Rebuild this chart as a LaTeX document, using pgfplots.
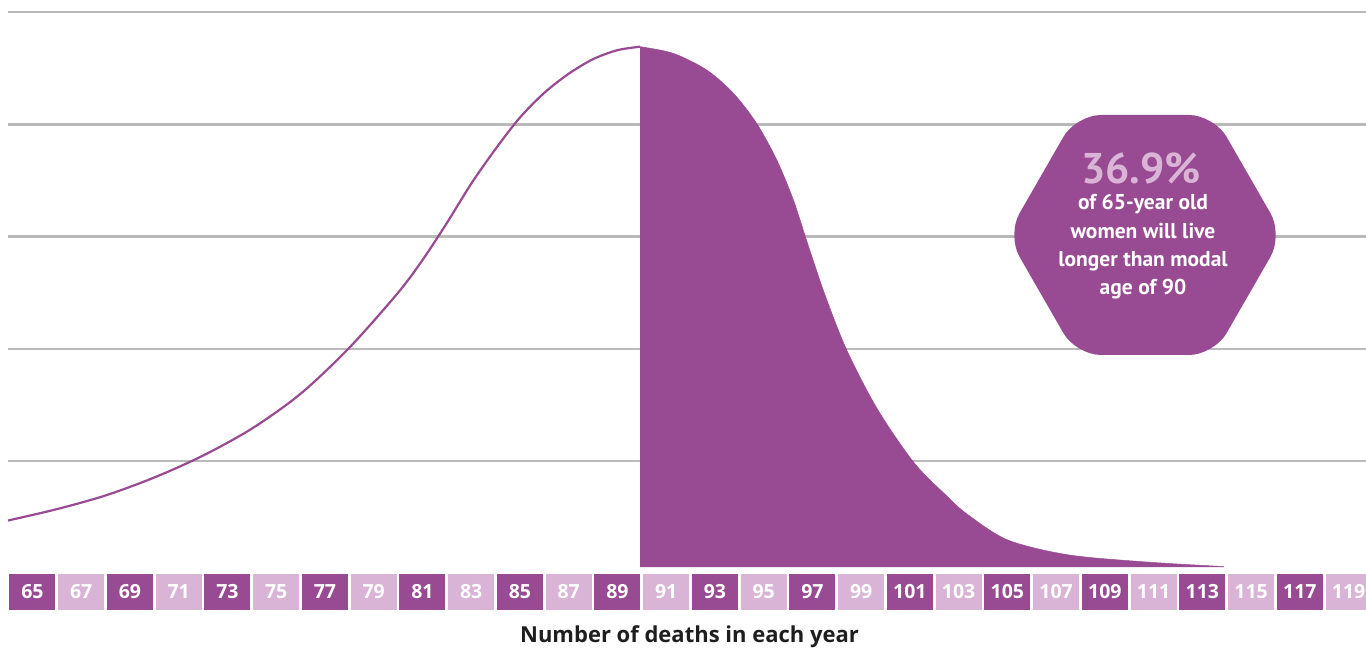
\documentclass[border=0pt]{standalone}
\usepackage{fontspec}
\setmainfont{Open Sans}
\newfontfamily\hexfont{PT Sans}
\usepackage{pgfplots}
\pgfplotsset{compat=1.18}
\usepgfplotslibrary{fillbetween}
\definecolor{plum}{RGB}{152,74,146}
\definecolor{lilac}{RGB}{217,180,214}
\definecolor{gridgray}{RGB}{185,185,185}
\definecolor{ink}{RGB}{30,30,30}

\begin{document}
\begin{tikzpicture}
\begin{axis}[
  x=24.375pt, y=112.3pt,
  xmin=64, xmax=119.7, ymin=0, ymax=5,
  axis line style={draw=none},
  major tick length=0pt,
  ytick={1,2,3,4,5}, yticklabels={},
  ymajorgrids, grid style={gridgray, line width=2.4pt},
  xtick={65,69,...,117},
  extra x ticks={67,71,...,119},
  extra x tick style={xticklabel style={fill=lilac}},
  /pgf/number format/assume math mode=true,
  xticklabel style={fill=plum, text=white,
    font=\fontsize{19.5}{20}\selectfont\bfseries,
    minimum width=46pt, minimum height=36pt, inner sep=0pt, anchor=north},
  clip=false,
]
% distribution of deaths before the modal age (outline only)
\addplot[plum, line width=2.2pt, smooth] coordinates {
  (64,0.472) (66,0.573) (68,0.695) (70,0.855) (72,1.05) (74,1.29)
  (76,1.60) (78,2.01) (80,2.50) (81,2.79) (82,3.12) (83,3.47) (84,3.78)
  (85,4.06) (86,4.28) (87,4.45) (88,4.58) (89,4.66) (89.93,4.691)
};
% distribution beyond the modal age (filled)
\addplot[name path=upper, plum, line width=0.5pt, smooth] coordinates {
  (89.93,4.691) (91.29,4.632) (92.66,4.484) (93.76,4.276) (94.71,4.009)
  (95.54,3.682) (96.22,3.326) (96.77,2.96) (97.5,2.49) (98.40,1.994)
  (99.65,1.47) (101.16,0.989) (102.5,0.693) (103.34,0.530) (105.02,0.298)
  (107.53,0.165) (110.87,0.100) (113.88,0.062)
};
\addplot[name path=base, draw=none] coordinates {(89.93,0.058) (113.88,0.058)};
\addplot[plum] fill between[of=upper and base];
\coordinate (O) at (axis cs:63.671,5.107);
\end{axis}

\begin{scope}[shift={(O)}, x=1pt, y=-1pt]
  \fill[plum, rounded corners=25pt]
    (1145,115) -- (1214,115) -- (1283,235) -- (1214,355)
    -- (1076,355) -- (1007,235) -- (1076,115) -- cycle;
  \node[lilac, font=\hexfont\bfseries\fontsize{43}{46}\selectfont] at (1141,168) {36.9\%};
  \node[white, align=center, font=\hexfont\bfseries\fontsize{21.5}{28.3}\selectfont]
    at (1143,247) {of 65-year old\\women will live\\longer than modal\\age of 90};
  \node[ink, font=\fontsize{22}{26}\selectfont\bfseries] at (689.5,637)
    {Number of deaths in each year};
  \pgfresetboundingbox
  \path (0,0) rectangle (1366,651);
\end{scope}
\end{tikzpicture}
\end{document}
